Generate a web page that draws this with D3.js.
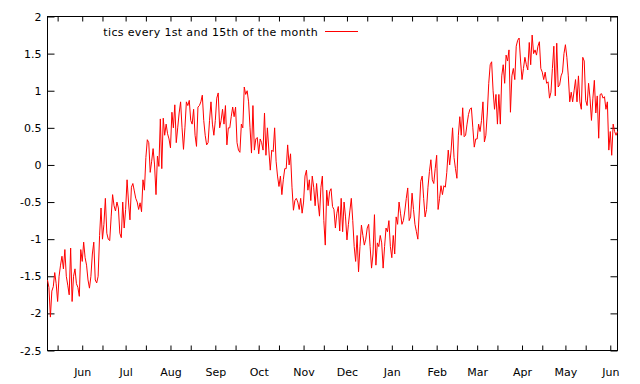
<!DOCTYPE html>
<html><head><meta charset="utf-8">
<script src="https://cdn.jsdelivr.net/npm/d3@7"></script>
<style>
body{margin:0;background:#fff}
svg{display:block}
text{font-family:"DejaVu Sans",sans-serif;font-size:11px;fill:#000}
</style>
</head><body>
<svg id="chart" width="640" height="384"></svg>
<script>
// ---- data (daily values) ----
const seriesStart = "1993-05-08";
const may93 = [-1.55,-1.65,-2.05,-1.7,-1.64,-1.45,-1.6,-1.84,-1.5,-1.35,-1.23,-1.4,-1.14,-1.5,-1.62,-1.75,-1.12,-1.84,-1.5,-1.4,-1.6,-1.65,-1.77,-1.14];
const jun93 = [-1.3,-1.04,-1.25,-1.35,-1.55,-1.66,-1.5,-1.2,-1.04,-1.55,-1.59,-1.5,-0.95,-0.58,-1.0,-0.8,-0.45,-0.92,-1.0,-1.02,-0.7,-0.4,-0.55,-0.62,-0.5,-0.58,-0.92,-0.98,-0.5,-0.85];
const jul93 = [-0.6,-0.2,-0.5,-0.74,-0.3,-0.25,-0.35,-0.45,-0.5,-0.6,-0.51,-0.63,-0.2,-0.34,0.1,0.34,0.3,-0.1,0.05,0.22,0.0,-0.4,0.12,-0.02,0.62,-0.05,0.63,0.4,0.55,0.42,0.35];
const aug93 = [0.23,0.71,0.5,0.81,0.3,0.5,0.7,0.85,0.5,0.21,0.5,0.85,0.8,0.87,0.6,0.55,0.75,0.4,0.25,0.78,0.8,0.85,0.94,0.6,0.4,0.27,0.3,0.6,0.85,0.55,0.4];
const sep93 = [0.6,0.9,0.97,0.5,0.6,0.75,0.55,0.8,0.27,0.5,0.5,0.65,0.78,0.65,0.78,0.3,0.2,0.17,0.55,0.5,1.05,0.95,1.0,0.85,0.5,0.16,0.8,0.2,0.35,0.37];
const oct93 = [0.15,0.35,0.3,0.2,0.7,0.13,0.5,0.2,-0.07,0.2,0.18,0.5,0.05,-0.15,-0.29,-0.15,-0.4,-0.2,-0.05,-0.05,0.27,0.0,0.15,-0.3,-0.61,-0.48,-0.45,-0.5,-0.6,-0.45,-0.65];
const nov93 = [-0.5,-0.15,-0.07,-0.34,-0.2,-0.48,-0.15,-0.3,-0.55,-0.25,-0.5,-0.69,-0.3,-0.15,-0.75,-1.08,-0.34,-0.55,-0.36,-0.32,-0.56,-0.6,-0.85,-0.65,-0.56,-0.89,-0.45,-0.9,-0.5,-0.7];
const dec93 = [-1.01,-0.8,-0.62,-0.45,-0.75,-1.1,-1.3,-0.95,-1.44,-1.1,-0.81,-0.95,-1.08,-1.0,-0.85,-0.8,-1.1,-1.39,-1.2,-0.67,-1.35,-1.05,-1.1,-0.95,-1.05,-1.39,-1.1,-0.85,-0.9,-0.75,-1.1];
const jan94 = [-1.25,-0.95,-1.2,-0.7,-0.8,-0.5,-0.65,-0.8,-0.75,-0.62,-0.45,-0.31,-0.75,-0.7,-0.38,-0.6,-0.8,-0.9,-1.0,-0.62,-0.22,-0.15,-0.45,-0.7,-0.6,-0.3,-0.09,0.07,-0.2,-0.25,-0.05];
const feb94 = [0.13,-0.6,-0.45,-0.28,-0.4,-0.28,-0.3,-0.1,0.2,0.0,0.2,0.5,0.1,-0.05,-0.18,0.4,0.65,0.4,0.77,0.38,0.4,0.55,0.68,0.75,0.77,0.5,0.24,0.35];
const mar94 = [0.35,0.55,0.45,0.6,0.85,0.31,0.4,0.7,1.1,1.35,1.39,1.0,0.75,0.95,0.55,0.95,0.55,1.2,1.35,1.1,1.48,1.4,1.55,0.71,1.2,1.3,1.15,1.6,1.68,1.71,1.4];
const apr94 = [1.15,1.3,1.45,1.35,1.28,1.65,1.35,1.75,1.5,1.55,1.48,1.6,1.66,1.3,1.25,1.15,1.25,1.1,1.12,0.9,0.98,1.3,1.6,0.93,1.64,1.05,1.08,1.2,1.25,1.5];
const may94 = [1.62,1.45,1.2,0.85,0.98,0.85,1.0,1.15,0.85,1.2,0.85,0.75,1.45,1.4,0.87,0.8,1.1,0.9,0.6,0.9,1.14,0.7,0.93,0.36,0.95,0.96,0.9,0.92,0.75,0.85,0.2];
const jun94 = [0.45,0.13,0.55,0.45,0.4,0.45];

const yTickValues = [2, 1.5, 1, 0.5, 0, -0.5, -1, -1.5, -2, -2.5];
const yTickLabels = ["2", "1.5", "1", "0.5", "0", "-0.5", "-1", "-1.5", "-2", "-2.5"];
const monthLabels = ["Jun","Jul","Aug","Sep","Oct","Nov","Dec","Jan","Feb","Mar","Apr","May","Jun"];
const legendLabel = "tics every 1st and 15th of the month";

// ---- build series ----
const allValues = [].concat(may93, jun93, jul93, aug93, sep93, oct93, nov93, dec93, jan94, feb94, mar94, apr94, may94, jun94);
const parse = d3.utcParse("%Y-%m-%d");
const t0 = parse(seriesStart);
const data = allValues.map((v, i) => ({date: d3.utcDay.offset(t0, i), value: v}));

// ---- layout ----
const L = 47.5, R = 617.5, T = 16.5, B = 350.5;
const svg = d3.select("#chart");

const x = d3.scaleUtc().domain(d3.extent(data, d => d.date)).range([L, R]);
const y = d3.scaleLinear().domain([-2.5, 2]).range([B, T]);

// month ticks (1st) and mid-month ticks (15th)
const [d0, d1] = x.domain();
const firsts = d3.utcMonth.range(d3.utcMonth.ceil(d0), d1);
const fifteenths = d3.utcMonth.range(d3.utcMonth.floor(d0), d1).map(m => d3.utcDay.offset(m, 14)).filter(d => d >= d0 && d <= d1);
const allXTicks = firsts.concat(fifteenths).sort((a, b) => a - b);

// bottom axis
const xAxis = d3.axisBottom(x).tickValues(allXTicks).tickSize(-5).tickPadding(18)
  .tickFormat(d => {
    if (d.getUTCDate() !== 1) return "";
    const k = firsts.findIndex(f => +f === +d);
    return monthLabels[k];
  });
const gx = svg.append("g").attr("transform", `translate(0,${B})`).call(xAxis);
gx.select(".domain").remove();
gx.selectAll("text").style("font-family", '"DejaVu Sans",sans-serif').style("font-size", "11px");

// top mirror
const gxt = svg.append("g").attr("transform", `translate(0,${T})`)
  .call(d3.axisTop(x).tickValues(allXTicks).tickSize(-5).tickFormat(""));
gxt.select(".domain").remove();

// left axis
const yAxis = d3.axisLeft(y).tickValues(yTickValues).tickSize(-7).tickPadding(6)
  .tickFormat((d, i) => yTickLabels[i]);
const gy = svg.append("g").attr("transform", `translate(${L},0)`).call(yAxis);
gy.select(".domain").remove();
gy.selectAll("text").style("font-family", '"DejaVu Sans",sans-serif').style("font-size", "11px");

// right mirror
const gyr = svg.append("g").attr("transform", `translate(${R},0)`)
  .call(d3.axisRight(y).tickValues(yTickValues).tickSize(-7).tickFormat(""));
gyr.select(".domain").remove();

svg.selectAll(".tick line").attr("stroke", "#000");

// border
svg.append("rect").attr("x", L).attr("y", T).attr("width", R - L).attr("height", B - T)
  .attr("fill", "none").attr("stroke", "#000").attr("stroke-width", 1);

// series line
const line = d3.line().x(d => x(d.date)).y(d => y(d.value));
svg.append("path").datum(data).attr("d", line)
  .attr("fill", "none").attr("stroke", "#ff0000").attr("stroke-width", 1);

// legend
svg.append("text").attr("x", 318).attr("y", 35.5).attr("text-anchor", "end")
  .style("letter-spacing", "0.35px").text(legendLabel);
svg.append("line").attr("x1", 325).attr("x2", 358).attr("y1", 31.5).attr("y2", 31.5)
  .attr("stroke", "#ff0000").attr("stroke-width", 1);
</script>
</body></html>
